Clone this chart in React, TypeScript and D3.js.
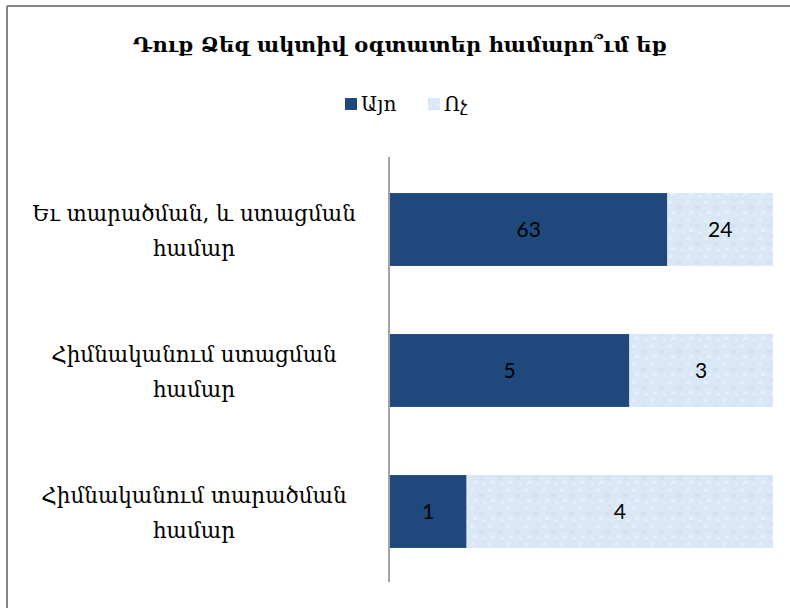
import React from "react";
import * as d3 from "d3";

const title = "Դուք Ձեզ ակտիվ օգտատեր համարո՞ւմ  եք";
const categories = [
  ["Եւ տարածման, և ստացման", "համար"],
  ["Հիմնականում ստացման", "համար"],
  ["Հիմնականում տարածման", "համար"],
];
const seriesNames = ["Այո", "Ոչ"];
const yesValues = [63, 5, 1];
const noValues = [24, 3, 4];
const colors = ["#1f497d", "#dae7f6"];

export default function App() {
  const W = 790, H = 608;
  const plotLeft = 390, plotRight = 773, plotTop = 159, plotBottom = 582;
  const rows = categories.map((c, i) => ({ key: String(i), yes: yesValues[i], no: noValues[i] }));
  const stack = d3.stack<any>().keys(["yes", "no"]).offset(d3.stackOffsetExpand);
  const layers = stack(rows);
  const x = d3.scaleLinear().domain([0, 1]).range([plotLeft, plotRight]);
  const y = d3.scaleBand().domain(rows.map(r => r.key)).range([plotTop, plotBottom]).paddingInner(0.483).paddingOuter(0.2415);
  const serif = "'DejaVu Serif', 'Noto Serif', serif";
  const sans = "Lato, 'Open Sans', sans-serif";
  return (
    <svg width={W} height={H} style={{ position: "absolute", left: 0, top: 0 }}>
      <defs>
        <pattern id="tex" width="18" height="18" patternUnits="userSpaceOnUse">
          <rect width="18" height="18" fill={colors[1]} />
          <rect x="2" y="3" width="4" height="3" fill="#e4eefa" />
          <rect x="11" y="8" width="5" height="4" fill="#d3e2f3" />
          <rect x="5" y="13" width="4" height="3" fill="#e6f0fb" />
          <rect x="14" y="1" width="3" height="2" fill="#d5e4f5" />
          <rect x="15" y="15" width="3" height="3" fill="#e2edf9" />
        </pattern>
      </defs>
      <rect x={0} y={0} width={W} height={H} fill="#fff" />
      <line x1={7} y1={6} x2={W} y2={6} stroke="#868686" strokeWidth={2} />
      <line x1={7} y1={6} x2={7} y2={H} stroke="#868686" strokeWidth={2} />
      <text x={400} y={52} textAnchor="middle" fontFamily={serif} fontWeight="bold" fontSize={21} fill="#000">{title}</text>
      {seriesNames.map((s, i) => (
        <g key={s}>
          <rect x={345 + i * 83} y={98} width={12} height={12} fill={i === 0 ? colors[0] : "url(#tex)"} />
          <text x={361 + i * 83} y={111} fontFamily={serif} fontSize={20} fill="#000">{s}</text>
        </g>
      ))}
      {layers.map((layer, li) => (
        <g key={layer.key}>
          {layer.map((d, i) => {
            const x0 = x(d[0]), x1 = x(d[1]);
            const yy = y(String(i))!;
            const val = li === 0 ? yesValues[i] : noValues[i];
            return (
              <g key={i}>
                <rect x={x0} y={yy} width={x1 - x0} height={y.bandwidth()} fill={li === 0 ? colors[0] : "url(#tex)"} />
                <text x={(x0 + x1) / 2} y={yy + y.bandwidth() / 2 + 7} textAnchor="middle" fontFamily={sans} fontSize={21} fill="#000">{val}</text>
              </g>
            );
          })}
        </g>
      ))}
      <line x1={389} y1={157} x2={389} y2={582} stroke="#868686" strokeWidth={1.5} />
      {categories.map((c, i) => {
        const cy = y(String(i))! + y.bandwidth() / 2;
        return (
          <text key={i} textAnchor="middle" fontFamily={serif} fontSize={21.5} fill="#000">
            <tspan x={194} y={cy - 9}>{c[0]}</tspan>
            <tspan x={194} y={cy + 26}>{c[1]}</tspan>
          </text>
        );
      })}
    </svg>
  );
}
